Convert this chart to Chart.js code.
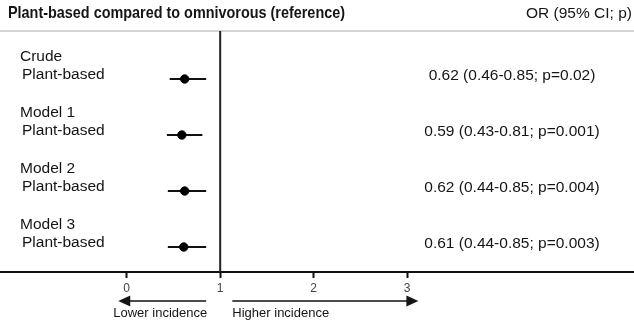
<!DOCTYPE html>
<html>
<head>
<meta charset="utf-8">
<script src="https://cdn.jsdelivr.net/npm/chart.js@4"></script>
<style>
  html, body { margin: 0; padding: 0; background: #fff; }
  #wrap { width: 634px; height: 324px; position: relative; }
</style>
</head>
<body>
<div id="wrap"><canvas id="forestChart"></canvas></div>
<script>
// data
const models = ['Crude', 'Model 1', 'Model 2', 'Model 3'];
const groupLabel = 'Plant-based';
const oddsRatios = [0.62, 0.59, 0.62, 0.61];
const ciLower = [0.46, 0.43, 0.44, 0.44];
const ciUpper = [0.85, 0.81, 0.85, 0.85];
const pValues = ['0.02', '0.001', '0.004', '0.003'];
const tickValues = [0, 1, 2, 3];
const refValue = 1;
const lowerArrow = [0.85, -0.09];   // from -> to (tip)
const higherArrow = [1.13, 3.12];

const title = 'Plant-based compared to omnivorous (reference)';
const colHeader = 'OR (95% CI; p)';

const X_MIN = -1.355, X_MAX = 5.426;
const Y_MIN = -0.857, Y_MAX = 3.446;

const ciSets = models.map((m, i) => ({
    type: 'line',
    label: m + ' CI',
    data: [{ x: ciLower[i], y: i }, { x: ciUpper[i], y: i }],
    borderColor: '#111',
    borderWidth: 2,
    pointRadius: 0,
    order: 2
}));

const fmt = v => v.toFixed(2);

const textPlugin = {
    id: 'forestText',
    beforeDatasetsDraw(chart) {
        const ctx = chart.ctx;
        const area = chart.chartArea;
        ctx.save();
        ctx.strokeStyle = '#c4c4c4';
        ctx.lineWidth = 1.5;
        ctx.beginPath();
        ctx.moveTo(0, area.top);
        ctx.lineTo(chart.width, area.top);
        ctx.stroke();
        ctx.restore();
    },
    afterDraw(chart) {
        const ctx = chart.ctx;
        const xs = chart.scales.x;
        const ys = chart.scales.y;
        ctx.save();
        ctx.fillStyle = '#151515';
        ctx.textBaseline = 'middle';

        // heading
        ctx.font = 'bold 17px "Liberation Sans", Arial, sans-serif';
        ctx.textAlign = 'left';
        ctx.fillText(title, 8, 13, 337);
        ctx.font = '15.5px "Liberation Sans", Arial, sans-serif';
        ctx.fillText(colHeader, 526, 14);

        // row labels and estimates
        models.forEach((m, i) => {
            const py = ys.getPixelForValue(i);
            ctx.textAlign = 'left';
            ctx.fillText(m, 20, py - 22);
            ctx.fillText(groupLabel, 22, py - 4);
            ctx.textAlign = 'center';
            ctx.fillText(fmt(oddsRatios[i]) + ' (' + fmt(ciLower[i]) + '-' + fmt(ciUpper[i]) + '; p=' + pValues[i] + ')', 512, py - 3);
        });

        // direction arrows
        const ay = 301;
        ctx.strokeStyle = '#111';
        ctx.lineWidth = 1.5;
        [lowerArrow, higherArrow].forEach(a => {
            const x0 = xs.getPixelForValue(a[0]);
            const x1 = xs.getPixelForValue(a[1]);
            const dir = Math.sign(x1 - x0);
            ctx.beginPath();
            ctx.moveTo(x0, ay);
            ctx.lineTo(x1 - dir * 8, ay);
            ctx.stroke();
            ctx.beginPath();
            ctx.moveTo(x1, ay);
            ctx.lineTo(x1 - dir * 12, ay - 5.5);
            ctx.lineTo(x1 - dir * 12, ay + 5.5);
            ctx.closePath();
            ctx.fill();
        });
        ctx.font = '13px "Liberation Sans", Arial, sans-serif';
        ctx.textAlign = 'left';
        ctx.fillText('Lower incidence', xs.getPixelForValue(lowerArrow[1]) - 5, 313);
        ctx.fillText('Higher incidence', xs.getPixelForValue(higherArrow[0]), 313);
        ctx.restore();
    }
};

const chart = new Chart(document.getElementById('forestChart'), {
    type: 'scatter',
    data: {
        datasets: [
            {
                type: 'scatter',
                label: 'OR',
                data: oddsRatios.map((v, i) => ({ x: v, y: i })),
                backgroundColor: '#000',
                borderColor: '#000',
                pointRadius: 4.2,
                order: 1
            },
            ...ciSets,
            {
                type: 'line',
                label: 'reference',
                data: [{ x: refValue, y: Y_MIN }, { x: refValue, y: Y_MAX }],
                borderColor: '#222',
                borderWidth: 2,
                pointRadius: 0,
                order: 3
            }
        ]
    },
    options: {
        responsive: true,
        maintainAspectRatio: false,
        animation: false,
        layout: { autoPadding: false, padding: { top: 31, left: 0, right: 0, bottom: 0 } },
        plugins: {
            legend: { display: false },
            tooltip: { enabled: false }
        },
        scales: {
            x: {
                type: 'linear',
                min: X_MIN,
                max: X_MAX,
                afterBuildTicks: scale => {
                    scale.ticks = tickValues.map(v => ({ value: v }));
                },
                afterFit: scale => {
                    scale.height = 52;
                    scale.paddingLeft = 0;
                    scale.paddingRight = 0;
                },
                grid: {
                    drawOnChartArea: false,
                    drawTicks: true,
                    tickLength: 6,
                    tickWidth: 2,
                    color: '#111'
                },
                border: { display: true, color: '#111', width: 2 },
                ticks: {
                    padding: 3,
                    color: '#444',
                    font: { family: '"Liberation Sans", Arial, sans-serif', size: 12 }
                }
            },
            y: {
                type: 'linear',
                display: false,
                reverse: true,
                min: Y_MIN,
                max: Y_MAX
            }
        }
    },
    plugins: [textPlugin]
});
</script>
</body>
</html>
